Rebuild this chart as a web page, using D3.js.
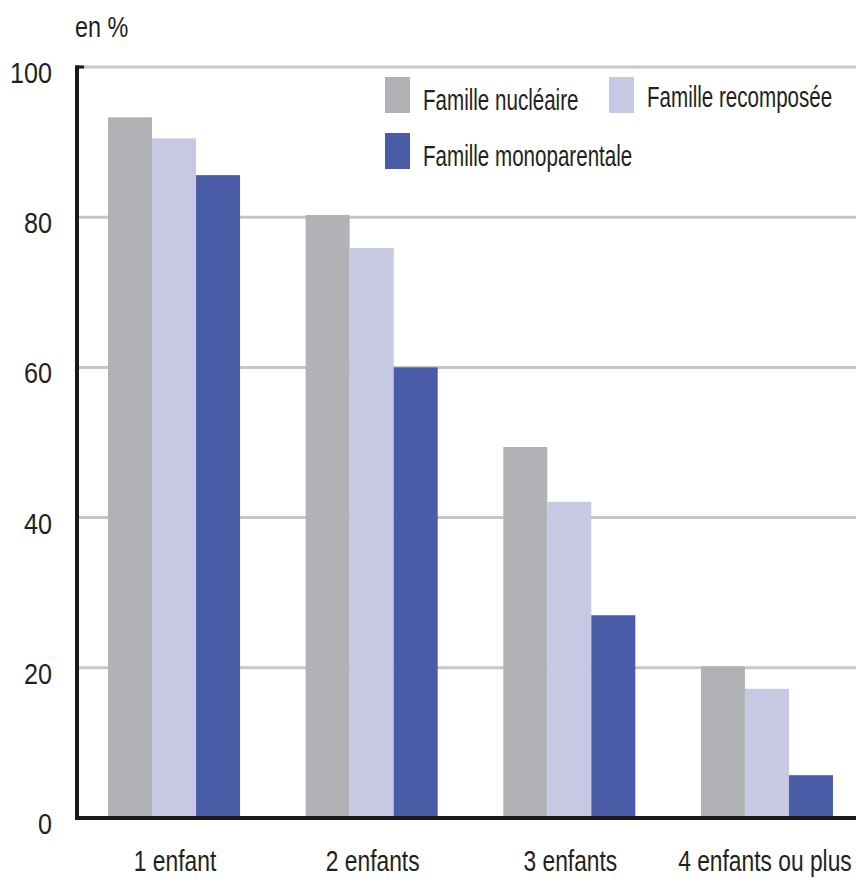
<!DOCTYPE html>
<html>
<head>
<meta charset="utf-8">
<script src="https://cdn.jsdelivr.net/npm/d3@7"></script>
<style>
  body { margin: 0; background: #fff; }
  text { font-family: "Liberation Sans", Arial, sans-serif; fill: #231f20; }
</style>
</head>
<body>
<script>
// data
var categories = ["1 enfant", "2 enfants", "3 enfants", "4 enfants ou plus"];
var series = ["Famille nucléaire", "Famille recomposée", "Famille monoparentale"];
var nucleaire = [93.3, 80.3, 49.4, 20.2];
var recomposee = [90.5, 75.9, 42.1, 17.2];
var monoparentale = [85.6, 60.0, 27.0, 5.7];
var yTicks = [0, 20, 40, 60, 80, 100];
var colors = ["#b1b2b5", "#c7c8e4", "#4a5ca8"];

var values = [nucleaire, recomposee, monoparentale];
var width = 856, height = 880;

// text squeezed horizontally (the original uses a condensed face)
function label(parent, x, y, k, size, anchor, str) {
  return parent.append("text")
    .attr("transform", "translate(" + x + "," + y + ") scale(" + k + ",1)")
    .attr("font-size", size)
    .attr("text-anchor", anchor)
    .text(str);
}

var svg = d3.select("body").append("svg")
  .attr("width", width)
  .attr("height", height);

var y = d3.scaleLinear().domain([0, 100]).range([818, 67]);

var x0 = d3.scaleBand().domain(categories)
  .range([77, 864]).paddingInner(0.332).paddingOuter(0.157);

var x1 = d3.scaleBand().domain(d3.range(series.length))
  .range([0, x0.bandwidth()]);

// grid lines
svg.append("g").selectAll("line")
  .data(yTicks.filter(function(d) { return d > 0; }))
  .enter().append("line")
  .attr("x1", 77).attr("x2", width)
  .attr("y1", function(d) { return y(d); })
  .attr("y2", function(d) { return y(d); })
  .attr("stroke", "#c6c6c6")
  .attr("stroke-width", 3);

// bars
var group = svg.append("g").selectAll("g")
  .data(categories)
  .enter().append("g")
  .attr("transform", function(d) { return "translate(" + x0(d) + ",0)"; });

group.selectAll("rect")
  .data(function(d, i) { return values.map(function(v, s) { return {s: s, v: v[i]}; }); })
  .enter().append("rect")
  .attr("x", function(d) { return x1(d.s); })
  .attr("width", x1.bandwidth())
  .attr("y", function(d) { return y(d.v); })
  .attr("height", function(d) { return y(0) - y(d.v); })
  .attr("fill", function(d) { return colors[d.s]; });

// y tick labels
var yLab = svg.append("g");
yTicks.forEach(function(t) {
  label(yLab, 52, y(t) + 16, 0.84, 30, "end", t);
});

svg.append("line")
  .attr("x1", 77).attr("x2", 77)
  .attr("y1", y(100) - 1.5).attr("y2", y(0))
  .attr("stroke", "#1a1a1a").attr("stroke-width", 4);
svg.append("line")
  .attr("x1", 75).attr("x2", 84)
  .attr("y1", y(100)).attr("y2", y(100))
  .attr("stroke", "#1a1a1a").attr("stroke-width", 3);

// x axis
svg.append("line")
  .attr("x1", 75).attr("x2", width)
  .attr("y1", y(0)).attr("y2", y(0))
  .attr("stroke", "#1a1a1a").attr("stroke-width", 4);

var xLab = svg.append("g");
categories.forEach(function(c, i) {
  label(xLab, x0(c) + x0.bandwidth() / 2 + (i == 3 ? -2 : 1), 871, 0.76, 30, "middle", c);
});

label(svg, 75, 37, 0.78, 30, "start", "en %");

// legend
var legendPos = [[385, 77], [609, 77], [385, 133]];
var legend = svg.append("g");
series.forEach(function(s, i) {
  legend.append("rect")
    .attr("x", legendPos[i][0]).attr("y", legendPos[i][1])
    .attr("width", 25).attr("height", 36)
    .attr("fill", colors[i]);
  label(legend, legendPos[i][0] + 38, legendPos[i][1] + (i == 1 ? 30 : 33), 0.71, 29, "start", s);
});
</script>
</body>
</html>
